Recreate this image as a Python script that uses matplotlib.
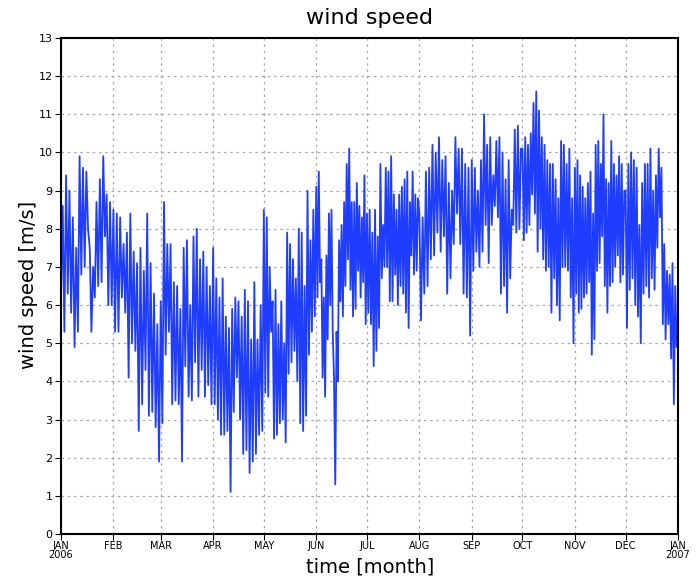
import numpy as np
import matplotlib
matplotlib.use("Agg")
import matplotlib.pyplot as plt

# month boundaries (day of year 2006) and tick labels
month_starts = [0, 31, 59, 90, 120, 151, 181, 212, 243, 273, 304, 334, 365]
month_labels = ["JAN\n2006", "FEB", "MAR", "APR", "MAY", "JUN", "JUL",
                "AUG", "SEP", "OCT", "NOV", "DEC", "JAN\n2007"]

# wind speed readings (alternating highs / lows), one list per month
jan = [6.2, 8.6, 5.3, 9.4, 6.3, 9.0, 5.8, 8.3, 4.9, 7.5, 5.3, 9.9, 6.8, 9.6, 7.0, 9.5,
       8.0, 7.5, 5.3, 7.0, 6.2, 8.7, 6.5, 9.3, 6.6, 9.9, 7.8, 8.9, 6.0, 8.7, 6.0]
feb = [8.5, 5.3, 8.4, 5.3, 8.3, 6.2, 7.6, 5.8, 7.9, 4.1, 8.4, 5.0, 7.4, 4.8, 7.1, 2.7,
       7.5, 3.4, 6.9, 4.3, 8.4, 3.1, 7.1, 3.2, 6.3, 2.8, 5.5, 1.9]
mar = [6.1, 2.9, 8.7, 4.7, 7.6, 5.3, 7.6, 3.4, 6.6, 3.5, 6.5, 3.4, 5.9, 1.9, 7.5, 4.4,
       7.7, 3.6, 6.0, 3.5, 7.8, 4.5, 8.0, 3.6, 7.2, 4.3, 7.4, 3.6, 7.0, 3.9, 6.5, 3.4]
apr = [7.5, 3.4, 6.7, 3.0, 6.2, 2.6, 6.7, 2.6, 5.7, 2.7, 5.4, 1.1, 5.9, 3.2, 6.2, 4.1,
       6.1, 3.0, 5.7, 2.1, 6.4, 2.2, 6.1, 1.6, 5.1, 1.9, 6.6, 2.1, 5.1, 2.6, 6.0, 2.7]
may = [8.5, 3.7, 8.3, 3.6, 7.0, 5.3, 6.1, 2.5, 6.4, 2.6, 5.5, 2.9, 6.1, 3.0, 5.0, 2.4,
       7.9, 4.2, 7.6, 4.5, 7.2, 4.8, 6.7, 4.0, 8.0, 2.9, 7.9, 2.7, 6.5, 3.1, 9.0, 4.7,
       7.7, 5.3, 8.5, 5.7]
jun = [9.1, 6.2, 9.5, 6.6, 7.2, 4.1, 6.2, 3.6, 7.3, 5.1, 8.4, 6.0, 8.5, 5.3, 4.1, 1.3,
       5.3, 4.0, 7.7, 6.1, 8.1, 5.7, 8.7, 6.5, 9.7, 7.2, 10.1, 6.4, 8.7, 5.7, 8.7, 5.9,
       9.2, 6.9, 8.6, 6.2, 8.3, 6.6, 9.4, 5.5]
jul = [8.4, 5.8, 8.5, 5.5, 7.9, 4.4, 8.5, 4.8, 7.8, 5.4, 9.7, 6.7, 8.1, 7.0, 9.6, 7.0,
       9.5, 6.1, 9.9, 6.1, 8.9, 6.8, 8.5, 6.0, 8.9, 6.5, 9.1, 6.3, 9.3, 5.8, 9.5, 5.4,
       8.7, 7.3, 9.5, 6.8, 8.9, 6.9, 8.8]
aug = [8.4, 5.6, 8.3, 6.3, 9.5, 6.5, 9.6, 7.2, 10.2, 7.3, 10.0, 7.9, 10.4, 7.4, 9.8, 7.8,
       9.9, 6.3, 9.2, 6.7, 9.0, 7.6, 10.4, 8.4, 10.1, 7.6, 10.1, 6.3, 9.7, 6.2, 9.6, 5.2]
sep = [9.8, 6.9, 9.6, 7.4, 9.0, 7.0, 9.8, 7.4, 11.0, 8.1, 10.2, 7.1, 10.4, 8.1, 9.4, 8.6,
       10.3, 8.3, 10.4, 6.3, 10.0, 6.5, 9.3, 5.8, 9.8, 6.7, 8.5, 8.1, 10.6, 7.9, 10.7, 8.0,
       10.1]
oct_ = [10.1, 7.7, 10.4, 7.9, 10.2, 8.1, 10.5, 8.9, 11.3, 8.4, 11.6, 7.4, 11.1, 8.0, 10.4,
        7.2, 10.2, 6.9, 9.8, 7.0, 9.7, 5.8, 9.7, 6.7, 9.3, 6.0, 8.8, 5.6, 10.3, 7.0, 10.2,
        7.0, 9.7, 6.9, 10.1, 6.2, 8.8, 5.0]
nov = [9.6, 6.3, 9.8, 5.8, 9.4, 5.9, 9.1, 6.2, 8.8, 6.3, 9.2, 6.6, 9.5, 4.7, 8.4, 5.1,
       10.2, 6.9, 10.3, 7.1, 9.7, 7.8, 11.0, 6.5, 9.3, 5.8, 9.2, 6.5, 10.3, 6.6, 9.7, 7.0,
       9.4, 7.3, 9.9, 6.6, 9.7, 6.8, 9.0]
dec = [9.0, 5.4, 9.7, 6.4, 10.0, 6.7, 9.8, 6.0, 9.6, 5.7, 8.1, 5.0, 9.2, 6.3, 9.7, 6.5,
       9.7, 6.2, 10.1, 6.7, 9.0, 6.4, 9.4, 7.5, 10.1, 8.3, 9.6, 5.5, 7.6, 5.1, 6.9, 5.5,
       6.8, 4.6, 7.1, 3.4, 6.5, 4.9, 5.8]

months = [jan, feb, mar, apr, may, jun, jul, aug, sep, oct_, nov, dec]

t = []
v = []
for i, vals in enumerate(months):
    n = len(vals)
    last = i == len(months) - 1
    t.extend(np.linspace(month_starts[i], month_starts[i + 1], n, endpoint=last))
    v.extend(vals)

W, H = 698, 582
fig = plt.figure(figsize=(W / 100, H / 100), dpi=100)
ax = fig.add_axes([61 / W, 1 - 534 / H, 617 / W, 496 / H])

ax.plot(t, v, color="#1f3dff", lw=1.3)

ax.set_xlim(0, 365)
ax.set_ylim(0, 13)
ax.set_xticks(month_starts)
ax.set_xticklabels(month_labels, fontsize=7, linespacing=0.9)
ax.set_yticks(range(0, 14))
ax.tick_params(axis="y", labelsize=8, length=4, direction="out", pad=2)
ax.tick_params(axis="x", length=4, direction="out", pad=1)
ax.grid(True, color="#a8a8a8", ls=(0, (2, 3)), lw=0.9)
for s in ax.spines.values():
    s.set_linewidth(1.5)

# titles placed where the reference has them
fig.text(369.5 / W, 1 - 18 / H, "wind speed", fontsize=16, ha="center", va="center")
fig.text(370 / W, 1 - 567 / H, "time [month]", fontsize=14, ha="center", va="center")
fig.text(28 / W, 1 - 285 / H, "wind speed [m/s]", fontsize=14, ha="center", va="center",
         rotation=90)

fig.savefig("out.png", dpi=100)
